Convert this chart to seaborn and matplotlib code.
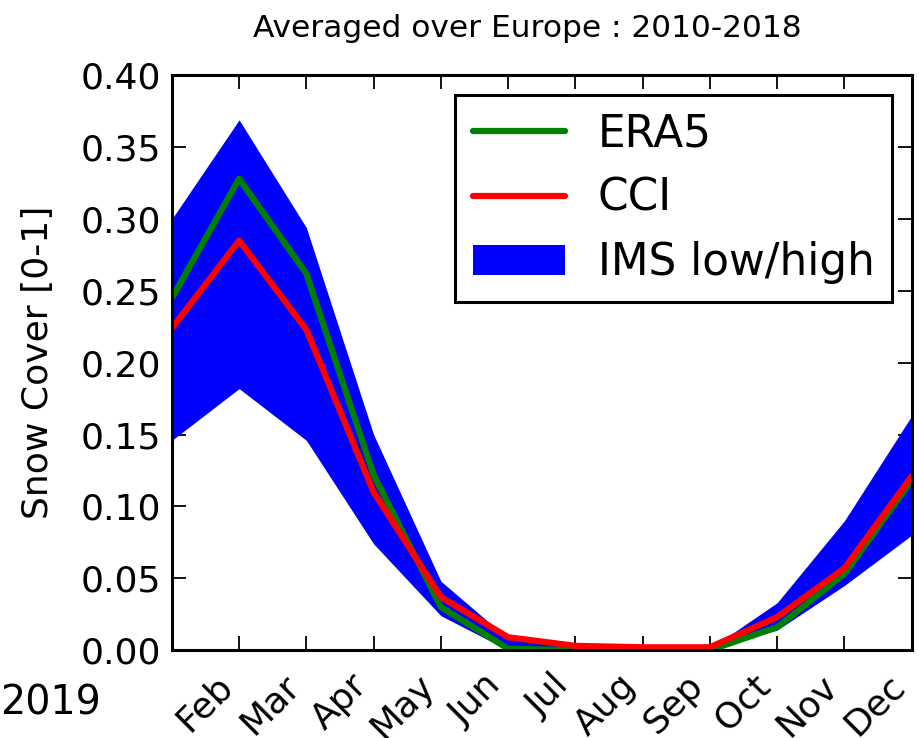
import matplotlib
matplotlib.use('Agg')
import matplotlib.pyplot as plt
import numpy as np
import pandas as pd
import seaborn as sns

# monthly means, Europe 2010-2018
months = np.arange(1, 13)
month_names = ['Jan', 'Feb', 'Mar', 'Apr', 'May', 'Jun', 'Jul', 'Aug', 'Sep', 'Oct', 'Nov', 'Dec']
era5 = [0.245, 0.328, 0.262, 0.122, 0.030, 0.001, 0.000, 0.000, 0.000, 0.016, 0.053, 0.118]
cci = [0.224, 0.285, 0.223, 0.110, 0.037, 0.009, 0.003, 0.002, 0.002, 0.023, 0.057, 0.121]
ims_low = [0.146, 0.182, 0.146, 0.074, 0.024, 0.000, 0.000, 0.000, 0.000, 0.014, 0.045, 0.080]
ims_high = [0.300, 0.369, 0.294, 0.150, 0.048, 0.008, 0.002, 0.001, 0.001, 0.033, 0.090, 0.163]

sns.set_style('ticks')
plt.rcParams['font.family'] = ['DejaVu Sans']
plt.rcParams['xtick.direction'] = 'in'
plt.rcParams['ytick.direction'] = 'in'
for k in ['text.color', 'axes.labelcolor', 'xtick.color', 'ytick.color']:
    plt.rcParams[k] = 'black'

df = pd.DataFrame({'month': months, 'ERA5': era5, 'CCI': cci})

fig = plt.figure(figsize=(9.19, 7.38), dpi=100)
ax = fig.add_axes([0.187, 0.119, 0.805, 0.779])

ax.fill_between(months, ims_low, ims_high, color='blue', lw=0, label='IMS low/high')
sns.lineplot(data=df, x='month', y='ERA5', color='green', lw=4.5, ax=ax, label='ERA5')
sns.lineplot(data=df, x='month', y='CCI', color='red', lw=4.5, ax=ax, label='CCI')

ax.set_xlim(1, 12)
ax.set_ylim(0, 0.40)
ax.set_xticks(months)
ax.set_xticklabels([''] + month_names[1:], rotation=45, ha='right', fontsize=26)
ax.set_yticks(np.arange(0, 0.41, 0.05))
ax.set_yticklabels([f'{v:.2f}' for v in np.arange(0, 0.41, 0.05)], fontsize=26)
ax.tick_params(which='major', length=10, width=1.3, top=True, right=True, pad=8)
ax.tick_params(axis='x', pad=13)
for s in ax.spines.values():
    s.set_linewidth(2.2)
    s.set_color('black')
ax.set_xlabel('')
ax.set_ylabel('Snow Cover [0-1]', fontsize=26, labelpad=18)
fig.text(0.5735, 0.962, 'Averaged over Europe : 2010-2018', fontsize=22.5,
         ha='center', va='center')

handles, labels = ax.get_legend_handles_labels()
order = [labels.index('ERA5'), labels.index('CCI'), labels.index('IMS low/high')]
leg = ax.legend([handles[i] for i in order], [labels[i] for i in order],
                loc='upper right', fontsize=31.5, fancybox=False, framealpha=1,
                edgecolor='black', handlelength=2.1, handletextpad=0.75,
                labelspacing=0.49, borderaxespad=0.45)
leg.get_frame().set_linewidth(2.2)

fig.text(0.0, 0.047, '2019', fontsize=28.5, ha='left', va='center')

fig.savefig('out.png', dpi=100)
